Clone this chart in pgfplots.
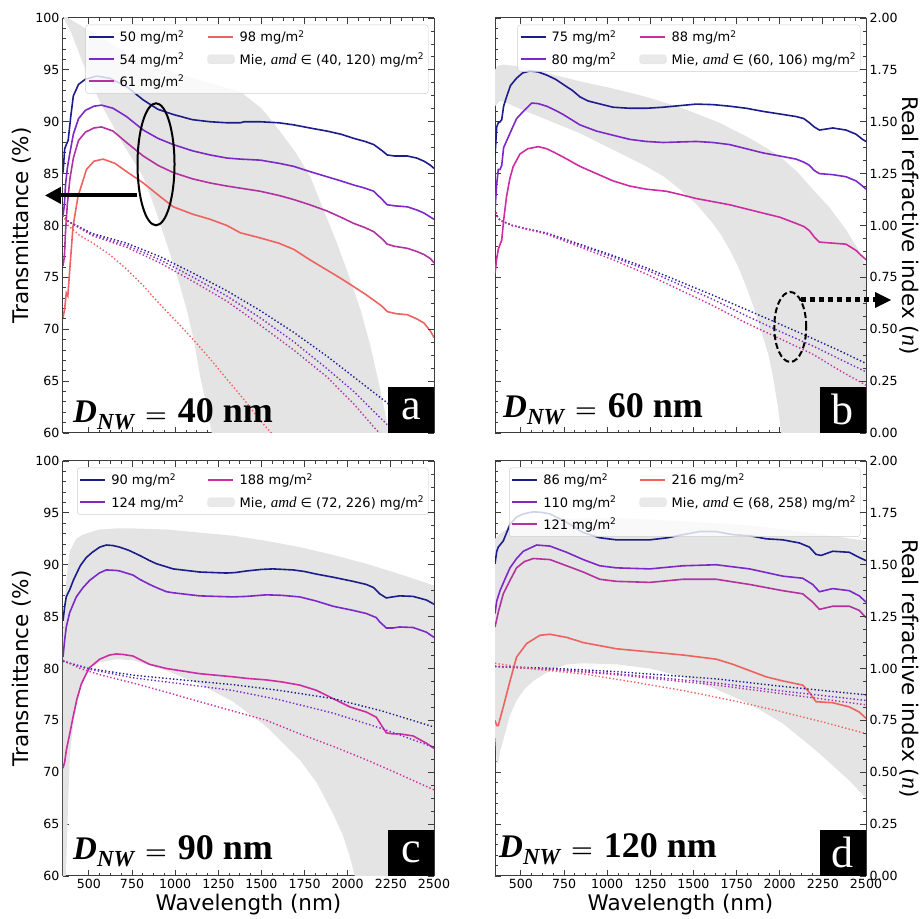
\documentclass[border=0pt]{standalone}
\usepackage{fontspec}
\setmainfont{DejaVu Sans}
\newfontfamily\serifnum{Liberation Serif}
\usepackage{pgfplots}
\pgfplotsset{compat=1.18}
\usetikzlibrary{arrows.meta}

\definecolor{cnavy}{RGB}{28,28,140}
\definecolor{cpurp}{RGB}{125,40,200}
\definecolor{cmag}{RGB}{180,50,160}
\definecolor{cpink}{RGB}{205,45,160}
\definecolor{csalm}{RGB}{238,98,96}
\definecolor{cband}{RGB}{228,228,228}
\definecolor{cframe}{RGB}{60,60,60}

\pgfplotsset{
  legend image code/.code={\draw[line width=2pt, #1] (0pt,0pt) -- (25pt,0pt);},
  base/.style={
    scale only axis, width=371pt, height=415pt,
    xmin=350, xmax=2500,
    xtick={500,750,...,2500},
    minor x tick num=3,
    tick align=inside,
    major tick length=6pt, minor tick length=3pt,
    every tick/.style={cframe, line width=0.8pt},
    axis line style={cframe, line width=1pt},
    tick label style={font=\fontsize{12.6}{14}\selectfont},
    /pgf/number format/assume math mode=true,
    /pgf/number format/set thousands separator={},
    every axis x label/.style={at={(axis description cs:0.5,-0.07)}, anchor=center, font=\fontsize{21.5}{24}\selectfont},
  },
  taxis/.style={base,
    ymin=60, ymax=100, ytick={60,65,...,100}, minor y tick num=4,
    axis y line*=left, xtick pos=both,
    every axis y label/.style={at={(axis description cs:-0.11,0.5)}, rotate=90, anchor=center, font=\fontsize{21.5}{24}\selectfont},
    legend columns=2,
    legend style={at={(0.985,0.984)}, anchor=north east,
      font=\fontsize{13}{15}\selectfont, draw=black!20, fill=white,
      fill opacity=0.8, text opacity=1, rounded corners=3pt,
      row sep=5.5pt, inner xsep=2pt, inner ysep=4pt,
      /tikz/every odd column/.append style={column sep=3pt},
      /tikz/every even column/.append style={column sep=20pt}},
    legend cell align=left,
  },
  naxis/.style={base,
    ymin=0, ymax=2, ytick={0,0.25,...,2}, minor y tick num=3,
    axis x line=none, axis y line*=right,
    yticklabel style={/pgf/number format/.cd, fixed, fixed zerofill, precision=2},
    every axis y label/.style={at={(axis description cs:1.116,0.5)}, rotate=-90, anchor=center, font=\fontsize{21.5}{24}\selectfont},
  },
  tl/.style={line width=1.6pt, forget plot},
  nl/.style={line width=1.4pt, dash pattern=on 1.4pt off 2.2pt, forget plot},
  band/.style={fill=cband, draw=none, forget plot},
}
\newcommand{\bandimg}{\addlegendimage{legend image code/.code={\fill[cband] (0pt,-4.5pt) rectangle (27pt,4.5pt);}}}
\newcommand{\mie}[1]{Mie, {\serifnum\itshape\fontsize{15}{15}\selectfont amd}\hspace{4pt}∈ (#1) mg/m\textsuperscript{2}}
\newcommand{\dnw}[1]{{\fontsize{33}{33}\selectfont\serifnum\bfseries\itshape D\raisebox{-7pt}{\fontsize{23}{23}\selectfont NW}}\hspace{11pt}{\fontsize{36}{36}\selectfont\boldmath$=$}\hspace{11pt}{\fontsize{36}{36}\selectfont\serifnum\bfseries #1 nm}}
\newcommand{\panel}[2]{\node[fill=black, text=white, minimum width=46pt, minimum height=46pt, inner sep=0pt, anchor=south east, font=\serifnum\fontsize{44}{44}\selectfont] at (#1.south east) {\raisebox{2pt}{#2}};}
\newcommand{\nlabel}{Real refractive index ({\serifnum\itshape\fontsize{24}{24}\selectfont n})}

\begin{document}
\begin{tikzpicture}

% ---------------- panel a ----------------
\begin{axis}[taxis, name=pa, at={(63pt,486pt)}, anchor=south west,
  xticklabels={}, ylabel={Transmittance (\%)}]
\addplot[band] coordinates {(350,105) (379,100) (500,98.8) (700,96.8) (900,95.2) (1100,94.2) (1250,93.5) (1377,92.9) (1500,91.3) (1570,89.9) (1700,87) (1783,84.7) (1860,81.5) (1938,78.3) (2010,75) (2074,71.9) (2130,68.5) (2171,65.5) (2210,62.5) (2239,60) (2300,55)
  (1260,56) (1212,60) (1180,62.8) (1144,65.5) (1110,68.8) (1067,71.9) (1010,75.2) (950,78.3) (880,81.8) (815,84.7) (700,87.8) (650,89.3) (573,91.6) (500,94.2) (450,96.3) (400,98.5) (354,100) (350,101)} -- cycle;
\addplot[tl, cnavy] coordinates {(350,85.1) (360,87.4) (369,87.8) (380,88.2) (395,90.5) (410,92.5) (440,93.6) (480,94.1) (544,94.4) (620,94.2) (718,93.4) (815,92.1) (900,91.2) (989,90.7) (1100,90.2) (1202,90.0) (1300,89.9) (1377,89.9) (1400,90.0) (1493,90.0) (1600,89.9) (1687,89.7) (1780,89.4) (1880,89.1) (1960,88.8) (2035,88.4) (2100,88.1) (2151,87.8) (2200,87.2) (2229,86.8) (2270,86.7) (2345,86.7) (2400,86.5) (2442,86.2) (2480,85.8) (2500,85.5)};
\addplot[tl, cpurp] coordinates {(350,80.9) (358,82) (365,84) (375,85.5) (390,87) (410,88.8) (440,90.3) (480,91.1) (530,91.5) (573,91.6) (640,91.3) (718,90.5) (815,89.2) (900,88.4) (989,87.8) (1100,87.2) (1202,86.8) (1300,86.5) (1377,86.4) (1493,86.3) (1600,86.0) (1687,85.7) (1780,85.2) (1880,84.7) (1960,84.3) (2035,83.9) (2100,83.6) (2151,83.3) (2200,82.5) (2229,82.0) (2270,81.9) (2345,81.8) (2400,81.5) (2442,81.2) (2480,80.8) (2500,80.6)};
\addplot[tl, cmag] coordinates {(350,76.1) (358,77) (365,79.5) (375,82) (390,84.5) (410,86.5) (440,88.2) (480,89.0) (530,89.4) (573,89.5) (640,89.1) (718,88.0) (815,86.7) (900,85.8) (989,85.1) (1100,84.5) (1202,84.1) (1300,83.8) (1377,83.6) (1493,83.3) (1600,82.9) (1687,82.5) (1780,82.0) (1880,81.4) (1960,80.8) (2035,80.2) (2100,79.8) (2151,79.4) (2200,78.7) (2229,78.2) (2270,78.0) (2345,77.8) (2400,77.5) (2442,77.2) (2480,76.8) (2500,76.4)};
\addplot[tl, csalm] coordinates {(350,71.1) (360,72.0) (369,73.5) (378,73.2) (389,75.7) (408,79.9) (437,82.8) (486,85.4) (530,86.2) (582,86.4) (650,86.0) (718,85.2) (815,84.1) (912,82.8) (989,81.8) (1100,81.1) (1202,80.6) (1300,80.0) (1377,79.3) (1493,78.8) (1600,78.3) (1687,77.7) (1780,76.7) (1880,75.7) (1960,74.9) (2035,74.1) (2100,73.4) (2151,72.8) (2200,72.2) (2229,71.7) (2280,71.5) (2345,71.4) (2400,71.0) (2442,70.6) (2480,69.8) (2500,69.2)};
\addlegendimage{cnavy}\addlegendentry{50 mg/m\textsuperscript{2}}
\addlegendimage{csalm}\addlegendentry{98 mg/m\textsuperscript{2}}
\addlegendimage{cpurp}\addlegendentry{54 mg/m\textsuperscript{2}}
\bandimg\addlegendentry{\mie{40, 120}}
\addlegendimage{cmag}\addlegendentry{61 mg/m\textsuperscript{2}}
\coordinate (ea) at (axis cs:889,85.9);
\coordinate (aa1) at (axis cs:781,82.9);
\coordinate (aa2) at (axis cs:245,82.9);
\end{axis}
\begin{axis}[naxis, at={(63pt,486pt)}, anchor=south west, yticklabels={}]
\addplot[nl, cnavy] coordinates {(350,1.05) (380,1.02) (450,0.99) (524,0.96) (718,0.915) (912,0.85) (1105,0.77) (1300,0.685) (1493,0.59) (1687,0.485) (1880,0.37) (2035,0.27) (2229,0.145) (2400,0.02) (2500,-0.06)};
\addplot[nl, cpurp] coordinates {(350,1.05) (380,1.02) (450,0.99) (524,0.955) (718,0.905) (912,0.835) (1105,0.75) (1300,0.66) (1493,0.555) (1687,0.44) (1880,0.31) (2035,0.2) (2229,0.04) (2300,-0.02)};
\addplot[nl, cmag] coordinates {(350,1.05) (380,1.02) (450,0.985) (524,0.95) (718,0.895) (912,0.82) (1105,0.73) (1300,0.635) (1493,0.52) (1687,0.4) (1880,0.27) (2035,0.14) (2150,0.03) (2250,-0.06)};
\addplot[nl, csalm] coordinates {(350,1.05) (380,1.0) (450,0.95) (524,0.915) (620,0.86) (718,0.79) (815,0.71) (912,0.62) (1010,0.535) (1105,0.45) (1200,0.36) (1299,0.26) (1400,0.16) (1493,0.06) (1600,-0.04) (1700,-0.15)};
\end{axis}
\draw[line width=2pt] (ea) ellipse [x radius=18.5pt, y radius=61pt];
\draw[line width=4pt, -{Triangle[length=16pt, width=16pt]}] (aa1) -- (aa2);
\node[anchor=base west, inner sep=0pt, xshift=10pt, yshift=10pt] at (pa.south west) {\dnw{40}};
\panel{pa}{a}

% ---------------- panel b ----------------
\begin{axis}[taxis, name=pb, at={(495pt,486pt)}, anchor=south west,
  xticklabels={}, yticklabels={}]
\addplot[band] coordinates {(350,95.0) (365,95.4) (400,95.5) (456,95.4) (600,94.9) (842,93.9) (1034,93.2) (1227,92.4) (1400,91.5) (1516,90.8) (1650,89.9) (1806,88.6) (1900,87.7) (1998,86.7) (2100,85.2) (2191,83.5) (2290,81.7) (2384,79.6) (2450,77.8) (2500,76.1)
  (2500,50) (2030,57) (2008,60) (1990,62.5) (1960,65.5) (1935,67.5) (1902,69.3) (1860,71.6) (1806,74.1) (1760,76.0) (1709,77.7) (1660,79.1) (1613,80.2) (1520,82.0) (1420,83.5) (1330,84.7) (1227,85.7) (1034,87.3) (840,88.9) (649,90.2) (500,91.2) (420,91.8) (380,92.0) (350,91.5)} -- cycle;
\addplot[tl, cnavy] coordinates {(350,86.7) (360,89.5) (369,89.9) (380,90.0) (389,90.2) (400,91.5) (417,92.4) (440,93.5) (475,94.2) (510,94.7) (552,94.9) (600,94.8) (649,94.5) (700,94.1) (745,93.6) (800,93.0) (842,92.4) (890,92.0) (938,91.8) (1034,91.4) (1130,91.3) (1227,91.3) (1324,91.4) (1420,91.55) (1516,91.7) (1613,91.65) (1709,91.5) (1806,91.3) (1902,91.0) (2000,90.75) (2095,90.5) (2140,90.3) (2172,89.9) (2200,89.5) (2230,89.2) (2270,89.3) (2307,89.4) (2384,89.2) (2442,88.8) (2480,88.3) (2500,88.1)};
\addplot[tl, cpurp] coordinates {(350,81.5) (360,84) (369,85.4) (379,85.4) (389,85.8) (400,87.5) (437,88.9) (475,90.3) (514,91.0) (562,91.8) (600,91.75) (649,91.5) (700,91.1) (745,90.7) (842,89.7) (938,89.1) (1034,88.7) (1131,88.3) (1227,88.1) (1324,88.0) (1420,88.05) (1516,88.1) (1613,88.0) (1709,87.8) (1806,87.4) (1902,87.0) (2000,86.7) (2095,86.4) (2140,86.1) (2172,85.8) (2200,85.3) (2230,85.0) (2307,84.9) (2384,84.7) (2442,84.3) (2480,83.8) (2500,83.5)};
\addplot[tl, cpink] coordinates {(350,75.4) (360,76.8) (369,77.7) (380,78.2) (389,78.6) (400,80.5) (417,82.8) (437,84.6) (456,85.7) (495,86.9) (540,87.4) (601,87.6) (649,87.4) (687,87.1) (745,86.6) (842,85.7) (938,85.0) (1034,84.3) (1131,83.8) (1227,83.5) (1343,83.3) (1420,83.0) (1516,82.6) (1613,82.3) (1709,82.0) (1806,81.6) (1902,81.2) (2000,80.8) (2095,80.2) (2140,79.9) (2172,79.5) (2200,78.9) (2230,78.4) (2307,78.3) (2384,78.2) (2442,77.6) (2480,77.0) (2500,76.7)};
\addlegendimage{cnavy}\addlegendentry{75 mg/m\textsuperscript{2}}
\addlegendimage{cpink}\addlegendentry{88 mg/m\textsuperscript{2}}
\addlegendimage{cpurp}\addlegendentry{80 mg/m\textsuperscript{2}}
\bandimg\addlegendentry{\mie{60, 106}}
\end{axis}
\begin{axis}[naxis, at={(495pt,486pt)}, anchor=south west, ylabel={\nlabel}]
\addplot[nl, cnavy] coordinates {(350,1.08) (365,1.04) (380,1.025) (450,1.0) (500,0.99) (649,0.964) (840,0.91) (1034,0.855) (1230,0.795) (1420,0.73) (1610,0.665) (1806,0.595) (2000,0.525) (2191,0.455) (2350,0.395) (2500,0.335)};
\addplot[nl, cpurp] coordinates {(350,1.08) (365,1.04) (380,1.025) (450,1.0) (500,0.99) (649,0.962) (840,0.905) (1034,0.848) (1230,0.785) (1420,0.715) (1610,0.645) (1806,0.565) (2000,0.49) (2191,0.42) (2350,0.355) (2500,0.295)};
\addplot[nl, cpink] coordinates {(350,1.08) (365,1.04) (380,1.025) (450,1.0) (500,0.99) (649,0.958) (840,0.897) (1034,0.835) (1230,0.765) (1420,0.69) (1610,0.615) (1806,0.53) (2000,0.455) (2191,0.38) (2350,0.3) (2500,0.23)};
\coordinate (eb) at (axis cs:2061,0.511);
\coordinate (ab1) at (axis cs:2125,0.641);
\coordinate (ab2) at (axis cs:2645,0.641);
\end{axis}
\draw[line width=2pt, dash pattern=on 6pt off 3pt] (eb) ellipse [x radius=16pt, y radius=35pt];
\draw[line width=5pt, dash pattern=on 5pt off 4pt] (ab1) -- ([xshift=-14pt]ab2);
\fill (ab2) -- ++(-16pt,8pt) -- ++(0pt,-16pt) -- cycle;
\node[anchor=base west, inner sep=0pt, xshift=8pt, yshift=15pt] at (pb.south west) {\dnw{60}};
\panel{pb}{b}

% ---------------- panel c ----------------
\begin{axis}[taxis, name=pc, at={(63pt,43pt)}, anchor=south west,
  xlabel={Wavelength (nm)}, ylabel={Transmittance (\%)}]
\addplot[band] coordinates {(350,83) (360,86.5) (369,88.5) (389,91.3) (427,92.5) (466,92.9) (520,93.2) (563,93.4) (659,93.5) (756,93.5) (949,93.4) (1142,93.1) (1335,92.8) (1529,92.3) (1722,91.7) (1915,90.95) (2108,90.1) (2300,89.1) (2500,88.0)
  (2500,50) (2080,57) (2041,60) (2012,61.9) (1970,64) (1915,66.0) (1820,69.0) (1722,71.2) (1529,74.4) (1335,76.8) (1142,78.5) (949,79.8) (852,80.3) (756,80.8) (659,80.9) (563,80.6) (520,80.2) (485,79.5) (456,78.3) (427,76.3) (408,74.5) (389,71.5) (380,67) (369,61.3) (360,58) (350,55)} -- cycle;
\addplot[tl, cnavy] coordinates {(350,84.6) (360,86.0) (369,86.9) (380,87.3) (389,87.6) (410,88.5) (427,89.1) (450,89.9) (485,90.7) (520,91.2) (563,91.7) (601,91.9) (640,91.85) (678,91.7) (730,91.4) (794,90.9) (852,90.4) (891,90.1) (950,89.8) (988,89.6) (1142,89.3) (1297,89.2) (1350,89.25) (1413,89.4) (1500,89.55) (1567,89.6) (1683,89.5) (1750,89.35) (1818,89.1) (1915,88.8) (2031,88.4) (2108,88.1) (2150,87.8) (2185,87.2) (2224,86.8) (2260,86.9) (2301,87.0) (2379,86.95) (2456,86.6) (2500,86.2)};
\addplot[tl, cpurp] coordinates {(350,81.1) (360,82.8) (369,84.0) (389,85.4) (427,86.9) (466,87.8) (505,88.5) (560,89.2) (601,89.5) (659,89.45) (678,89.4) (756,89.0) (794,88.6) (852,88.1) (891,87.8) (950,87.4) (988,87.3) (1142,87.0) (1335,86.9) (1413,86.95) (1529,87.1) (1620,87.05) (1722,86.9) (1818,86.5) (1915,86.0) (2031,85.6) (2108,85.3) (2166,84.9) (2185,84.5) (2224,83.9) (2260,83.9) (2301,84.0) (2379,83.95) (2456,83.5) (2500,83.0)};
\addplot[tl, cpink] coordinates {(350,70.4) (360,71.0) (369,72.1) (389,73.7) (408,75.3) (430,77.0) (456,78.5) (485,79.5) (505,80.1) (563,80.9) (620,81.3) (659,81.4) (700,81.35) (756,81.2) (852,80.4) (949,80.0) (1142,79.5) (1335,79.2) (1413,79.05) (1529,78.9) (1620,78.7) (1722,78.4) (1818,77.9) (1915,77.1) (2012,76.3) (2108,75.8) (2166,75.3) (2200,74.4) (2224,73.8) (2260,73.7) (2301,73.7) (2379,73.5) (2456,72.8) (2500,72.3)};
\addlegendimage{cnavy}\addlegendentry{90 mg/m\textsuperscript{2}}
\addlegendimage{cpink}\addlegendentry{188 mg/m\textsuperscript{2}}
\addlegendimage{cpurp}\addlegendentry{124 mg/m\textsuperscript{2}}
\bandimg\addlegendentry{\mie{72, 226}}
\end{axis}
\begin{axis}[naxis, at={(63pt,43pt)}, anchor=south west, yticklabels={}]
\addplot[nl, cnavy] coordinates {(350,1.035) (500,1.0) (756,0.968) (1000,0.948) (1335,0.922) (1600,0.895) (1915,0.855) (2200,0.795) (2500,0.718)};
\addplot[nl, cpurp] coordinates {(350,1.035) (500,0.997) (756,0.955) (1000,0.93) (1335,0.894) (1600,0.85) (1915,0.785) (2200,0.71) (2500,0.62)};
\addplot[nl, cpink] coordinates {(350,1.04) (450,1.0) (563,0.97) (756,0.93) (949,0.886) (1142,0.84) (1335,0.795) (1529,0.75) (1722,0.685) (1915,0.625) (2108,0.56) (2300,0.49) (2500,0.415)};
\end{axis}
\node[anchor=base west, inner sep=0pt, xshift=10pt, yshift=16pt] at (pc.south west) {\dnw{90}};
\panel{pc}{c}

% ---------------- panel d ----------------
\begin{axis}[taxis, name=pd, at={(495pt,43pt)}, anchor=south west,
  xlabel={Wavelength (nm)}, yticklabels={}]
\addplot[band] coordinates {(350,92.5) (379,93.0) (437,93.6) (475,93.9) (572,94.2) (668,94.4) (1054,94.5) (1439,94.2) (1825,93.8) (2210,93.0) (2500,92.3)
  (2500,67.5) (2403,69.2) (2210,72.1) (2018,74.7) (1825,76.6) (1632,78.0) (1439,79.2) (1247,80.0) (1054,80.4) (861,80.5) (765,80.4) (668,79.8) (572,78.8) (520,78.0) (475,76.9) (437,75.5) (398,73.1) (379,72) (369,70.8) (360,71.0) (350,73.7)} -- cycle;
\addplot[tl, cnavy] coordinates {(350,90.1) (360,91.3) (369,91.7) (398,92.3) (437,93.9) (475,94.6) (514,94.9) (572,95.1) (620,95.05) (668,94.9) (765,94.1) (861,93.1) (957,92.6) (1054,92.4) (1247,92.4) (1350,92.6) (1439,92.9) (1536,93.2) (1632,93.2) (1729,92.9) (1825,92.8) (1921,92.5) (2018,92.4) (2114,92.1) (2172,91.7) (2210,91.0) (2240,90.9) (2307,91.3) (2403,91.2) (2461,90.7) (2500,90.4)};
\addplot[tl, cpurp] coordinates {(350,85.3) (360,86.5) (379,87.5) (410,88.7) (437,89.7) (475,90.6) (514,91.3) (591,91.9) (668,91.8) (765,91.2) (861,90.5) (957,89.9) (1054,89.7) (1247,89.6) (1439,89.9) (1632,90.0) (1825,89.6) (2018,88.9) (2133,88.7) (2191,88.1) (2230,87.4) (2307,87.7) (2403,87.5) (2461,87.0) (2500,86.4)};
\addplot[tl, cmag] coordinates {(350,84.0) (370,85.5) (398,87.2) (437,88.5) (475,89.7) (520,90.3) (572,90.6) (668,90.5) (765,89.9) (861,89.3) (957,88.6) (1054,88.4) (1247,88.3) (1439,88.6) (1632,88.6) (1825,88.1) (2018,87.5) (2133,87.2) (2191,86.4) (2230,85.7) (2307,86.0) (2403,86.0) (2461,85.6) (2500,84.9)};
\addplot[tl, csalm] coordinates {(350,75.0) (360,74.5) (369,74.5) (380,75.2) (398,76.3) (437,78.8) (475,81.1) (533,82.4) (610,83.2) (668,83.3) (765,83.0) (861,82.5) (1054,81.9) (1247,81.6) (1439,81.3) (1632,80.9) (1729,80.4) (1825,79.8) (1921,79.2) (2018,78.8) (2133,78.4) (2172,77.7) (2210,76.8) (2307,76.7) (2403,76.3) (2461,75.8) (2500,75.2)};
\addlegendimage{cnavy}\addlegendentry{86 mg/m\textsuperscript{2}}
\addlegendimage{csalm}\addlegendentry{216 mg/m\textsuperscript{2}}
\addlegendimage{cpurp}\addlegendentry{110 mg/m\textsuperscript{2}}
\bandimg\addlegendentry{\mie{68, 258}}
\addlegendimage{cmag}\addlegendentry{121 mg/m\textsuperscript{2}}
\end{axis}
\begin{axis}[naxis, at={(495pt,43pt)}, anchor=south west, ylabel={\nlabel}]
\addplot[nl, cnavy] coordinates {(350,1.01) (700,1.0) (1054,0.985) (1632,0.95) (2000,0.915) (2500,0.873)};
\addplot[nl, cpurp] coordinates {(350,1.01) (700,0.995) (1054,0.975) (1632,0.93) (2000,0.893) (2500,0.846)};
\addplot[nl, cmag] coordinates {(350,1.01) (700,0.993) (1054,0.97) (1632,0.92) (2000,0.88) (2500,0.825)};
\addplot[nl, csalm] coordinates {(350,1.025) (600,0.995) (861,0.974) (1150,0.935) (1439,0.894) (1730,0.845) (2018,0.79) (2260,0.74) (2500,0.686)};
\end{axis}
\node[anchor=base west, inner sep=0pt, xshift=4pt, yshift=18pt] at (pd.south west) {\dnw{120}};
\panel{pd}{d}

\pgfresetboundingbox
\useasboundingbox (0pt,0pt) rectangle (922pt,919pt);
\end{tikzpicture}
\end{document}
